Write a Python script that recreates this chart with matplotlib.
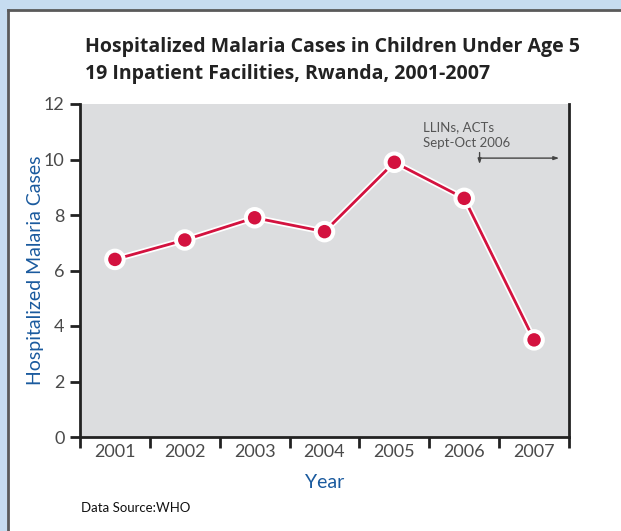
import matplotlib
matplotlib.use("Agg")
import matplotlib.pyplot as plt
from matplotlib.patches import Rectangle
import matplotlib.patheffects as pe

years = ["2001", "2002", "2003", "2004", "2005", "2006", "2007"]
cases = [6.4, 7.1, 7.9, 7.4, 9.9, 8.6, 3.5]
y_ticks = [0, 2, 4, 6, 8, 10, 12]

plt.rcParams["font.family"] = ["Lato", "DejaVu Sans"]

fig = plt.figure(figsize=(6.21, 5.31), dpi=100)
fig.patch.set_facecolor("#c6dcf0")

# white panel with a dark frame on the left and top
W, H = 621, 531
fig.patches.append(Rectangle((8 / W, 0), 1, 1 - 10 / H, transform=fig.transFigure,
                             facecolor="white", edgecolor="none", zorder=-10))
fig.lines.append(plt.Line2D([8 / W, 8 / W], [0, 1 - 10 / H], transform=fig.transFigure,
                            color="#5a5a5a", lw=2, zorder=-9))
fig.lines.append(plt.Line2D([8 / W, 1], [1 - 10 / H, 1 - 10 / H], transform=fig.transFigure,
                            color="#5a5a5a", lw=2, zorder=-9))

ax = fig.add_axes([80 / W, 1 - 437 / H, 489 / W, 333 / H])
ax.set_zorder(1)
ax.set_facecolor("#dcdddf")

x = list(range(1, len(years) + 1))
ax.plot(x, cases, color="#d3123f", lw=2, marker="o", markersize=11,
        markerfacecolor="#d3123f", markeredgecolor="white", markeredgewidth=1.3,
        path_effects=[pe.Stroke(linewidth=4.5, foreground="white"), pe.Normal()],
        zorder=3, clip_on=False)

ax.set_xlim(0.5, len(years) + 0.5)
ax.set_ylim(0, 12)
ax.set_yticks(y_ticks)
ax.set_yticklabels([str(v) for v in y_ticks])
ax.set_xticks([i + 0.5 for i in range(0, len(years) + 1)])
ax.set_xticklabels([])
ax.set_xticks(x, minor=True)
ax.set_xticklabels(years, minor=True)
ax.tick_params(axis="x", which="minor", length=0, pad=5)
ax.tick_params(axis="x", which="major", length=8, width=2, color="#222222", direction="out")
ax.tick_params(axis="y", length=7, width=2, color="#222222", direction="out", pad=4)
for lab in ax.get_xticklabels(minor=True) + ax.get_yticklabels():
    lab.set_fontsize(13)
    lab.set_fontweight("normal")
    lab.set_color("#4a4a4a")

ax.spines["top"].set_visible(False)
for s in ("left", "bottom", "right"):
    ax.spines[s].set_linewidth(2)
    ax.spines[s].set_color("#222222")

ax.set_ylabel("Hospitalized Malaria Cases", color="#1a5a9e", fontsize=14, labelpad=0)
ax.set_xlabel("Year", color="#1a5a9e", fontsize=14, labelpad=10)

# intervention annotation
ax.text(5.41, 11.17, "LLINs, ACTs", fontsize=9.5, color="#555555",
        va="center", ha="left")
ax.text(5.41, 10.6, "Sept-Oct 2006", fontsize=9.5, color="#555555",
        va="center", ha="left")
ax.annotate("", xy=(7.36, 10.05), xytext=(6.22, 10.05),
            arrowprops=dict(arrowstyle="-|>,head_length=0.3,head_width=0.1",
                            color="#444444", lw=1, shrinkA=0, shrinkB=0))
ax.annotate("", xy=(6.22, 9.83), xytext=(6.22, 10.25),
            arrowprops=dict(arrowstyle="-|>,head_length=0.3,head_width=0.1",
                            color="#444444", lw=1, shrinkA=0, shrinkB=0))

fig.text(85 / W, 1 - 47 / H, "Hospitalized Malaria Cases in Children Under Age 5",
         fontsize=14, fontweight="bold", color="#222222", va="center", ha="left",
         family=["Open Sans", "DejaVu Sans"])
fig.text(85 / W, 1 - 74 / H, "19 Inpatient Facilities, Rwanda, 2001-2007",
         fontsize=14, fontweight="bold", color="#222222", va="center", ha="left",
         family=["Open Sans", "DejaVu Sans"])
fig.text(81 / W, 1 - 508 / H, "Data Source:WHO", fontsize=9.5, color="#111111",
         va="center", ha="left")

fig.savefig("out.png", dpi=100, facecolor=fig.get_facecolor())
